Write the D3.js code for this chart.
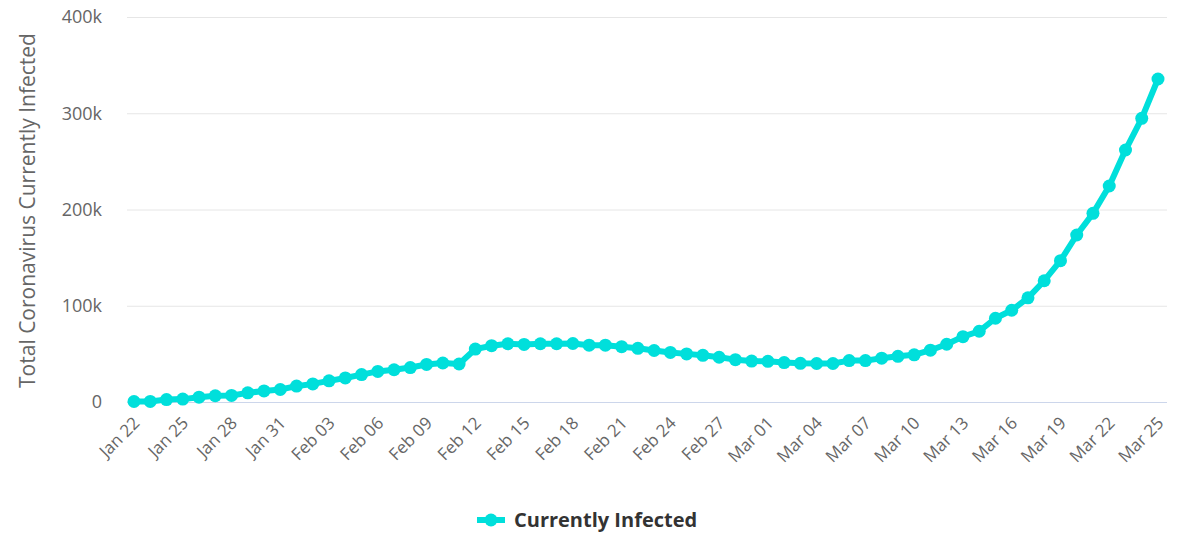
<!DOCTYPE html>
<html>
<head>
<meta charset="utf-8">
<script src="https://cdn.jsdelivr.net/npm/d3@7"></script>
<style>
  html, body { margin: 0; padding: 0; background: #fff; }
  svg { display: block; font-family: "Open Sans", sans-serif; }
</style>
</head>
<body>
<svg id="chart" width="1183" height="536"></svg>
<script>
// ---- data ----
const dates = ["Jan 22","Jan 23","Jan 24","Jan 25","Jan 26","Jan 27","Jan 28","Jan 29","Jan 30","Jan 31",
  "Feb 01","Feb 02","Feb 03","Feb 04","Feb 05","Feb 06","Feb 07","Feb 08","Feb 09","Feb 10",
  "Feb 11","Feb 12","Feb 13","Feb 14","Feb 15","Feb 16","Feb 17","Feb 18","Feb 19","Feb 20",
  "Feb 21","Feb 22","Feb 23","Feb 24","Feb 25","Feb 26","Feb 27","Feb 28","Feb 29",
  "Mar 01","Mar 02","Mar 03","Mar 04","Mar 05","Mar 06","Mar 07","Mar 08","Mar 09","Mar 10",
  "Mar 11","Mar 12","Mar 13","Mar 14","Mar 15","Mar 16","Mar 17","Mar 18","Mar 19","Mar 20",
  "Mar 21","Mar 22","Mar 23","Mar 24","Mar 25"];
const currentlyInfected = [500, 600, 2500, 3000, 5000, 6500, 6800, 9500, 11500, 13000,
  16500, 18800, 22000, 25000, 28500, 31800, 33500, 35800, 39000, 40500,
  39500, 55000, 58500, 60500, 59800, 60500, 60500, 60800, 59000, 59000,
  57500, 55800, 53500, 51500, 50000, 48500, 46500, 44000, 42500,
  42300, 41000, 40200, 40000, 40000, 43000, 43000, 45500, 47500, 49000,
  53800, 60000, 67900, 73500, 87000, 95300, 108200, 126000, 146800, 173500,
  196000, 224400, 261800, 294700, 335600];
const yTicks = [0, 100000, 200000, 300000, 400000];
const yTickLabels = ["0", "100k", "200k", "300k", "400k"];
const seriesName = "Currently Infected";
const yTitle = "Total Coronavirus Currently Infected";

// ---- layout ----
const svg = d3.select("#chart");
const plotLeft = 127, plotRight = 1167, plotTop = 17, plotBottom = 402;
const color = "#00dfdb";
const font = "'Open Sans', sans-serif";

const x = d3.scalePoint().domain(dates).range([134, 1158]);
const y = d3.scaleLinear().domain([0, 400000]).range([plotBottom, plotTop]);

// gridlines + y labels
const yAxis = d3.axisLeft(y).tickValues(yTicks)
  .tickSize(-(plotRight - plotLeft)).tickPadding(25)
  .tickFormat((d, i) => yTickLabels[i]);
const gy = svg.append("g").attr("transform", `translate(${plotLeft},0)`).call(yAxis)
  .attr("font-family", font).attr("font-size", 18);
gy.select(".domain").remove();
gy.selectAll(".tick line").attr("stroke", "#e6e6e6").attr("stroke-width", 1);
gy.selectAll(".tick text").attr("fill", "#666");

// x axis
const xLabels = dates.filter((d, i) => i % 3 === 0);
const xAxis = d3.axisBottom(x).tickValues(xLabels).tickSize(0);
const gx = svg.append("g").attr("transform", `translate(0,${plotBottom})`).call(xAxis)
  .attr("font-family", font).attr("font-size", 17);
gx.select(".domain").attr("d", `M${plotLeft},0.5H${plotRight}`).attr("stroke", "#ccd6eb");
gx.selectAll(".tick text")
  .attr("fill", "#666")
  .attr("text-anchor", "end")
  .attr("x", 0).attr("y", 0)
  .attr("dy", "0.35em")
  .attr("transform", "translate(2,18) rotate(-45)");

// y title
svg.append("text")
  .attr("transform", `translate(35,${(plotTop + plotBottom) / 2 + 1}) rotate(-90)`)
  .attr("text-anchor", "middle")
  .attr("fill", "#666")
  .style("font-size", "21px")
  .text(yTitle);

// line
const line = d3.line().x((d, i) => x(dates[i])).y(d => y(d));
svg.append("path").datum(currentlyInfected)
  .attr("d", line).attr("fill", "none")
  .attr("stroke", color).attr("stroke-width", 6)
  .attr("stroke-linejoin", "round").attr("stroke-linecap", "round");

svg.append("g").selectAll("circle").data(currentlyInfected).join("circle")
  .attr("cx", (d, i) => x(dates[i])).attr("cy", d => y(d))
  .attr("r", 6.5).attr("fill", color);

// legend
const lg = svg.append("g").attr("transform", "translate(477,520)");
lg.append("line").attr("x1", 0).attr("x2", 28).attr("y1", 0).attr("y2", 0)
  .attr("stroke", color).attr("stroke-width", 6);
lg.append("circle").attr("cx", 14).attr("cy", 0).attr("r", 6.5).attr("fill", color);
lg.append("text").attr("x", 37).attr("y", 0).attr("dy", "0.35em")
  .attr("fill", "#333").style("font-size", "20px").style("font-weight", "bold")
  .text(seriesName);
</script>
</body>
</html>
